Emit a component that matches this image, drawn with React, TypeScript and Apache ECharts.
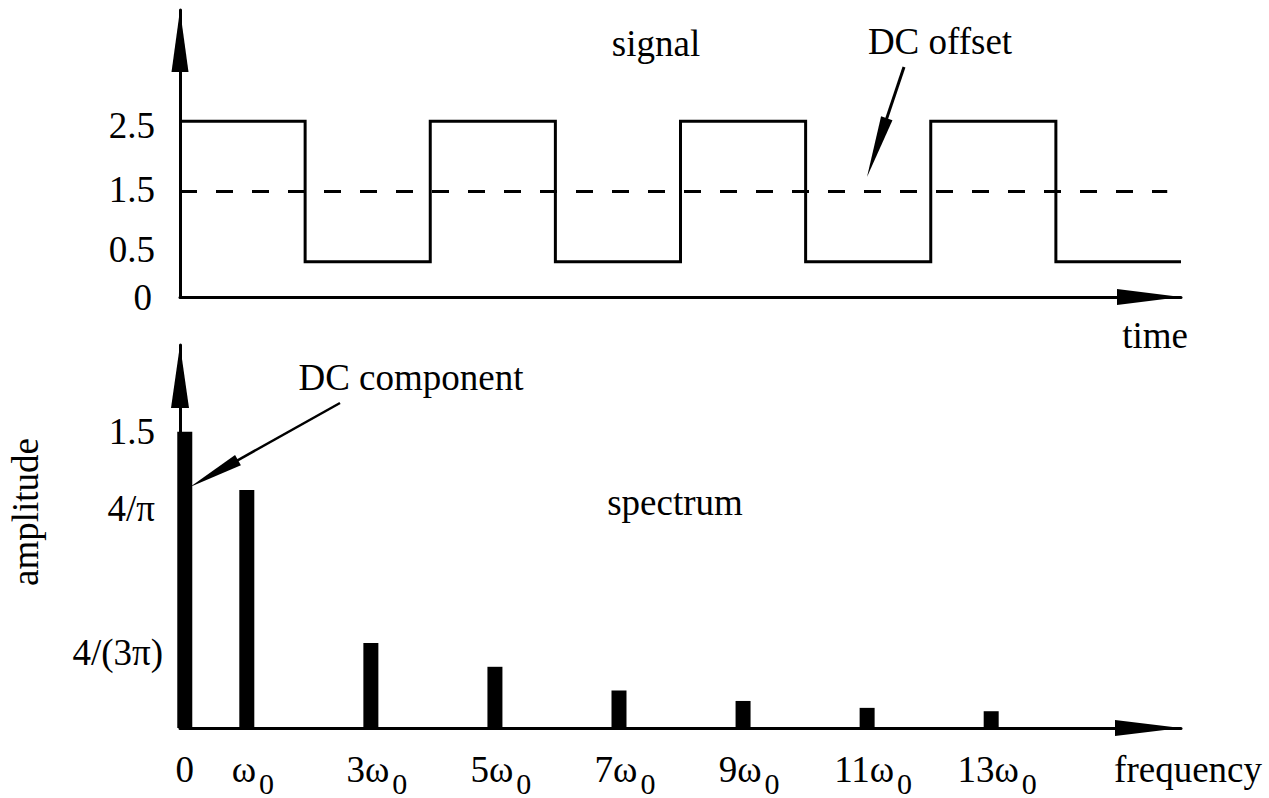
import React, { useEffect, useRef } from 'react';
import * as echarts from 'echarts';

// ---- data: time-domain signal (time in half-periods) ----
const signalTimes = [0, 1, 2, 3, 4, 5, 6, 7, 8];
const signalLevels = [2.5, 0.5, 2.5, 0.5, 2.5, 0.5, 2.5, 0.5, 0.5];
const dcOffsetTimes = [0, 7.89];
const dcOffsetLevels = [1.5, 1.5];
const signalTicks = [0, 0.5, 1.5, 2.5];
const signalTickLabels = ['0', '0.5', '1.5', '2.5'];

// ---- data: spectrum (frequency in multiples of ω0) ----
const harmonics = [0, 1, 3, 5, 7, 9, 11, 13];
const amplitudes = [1.5, 1.206, 0.43, 0.31, 0.19, 0.137, 0.102, 0.085];
const harmonicLabels = ['0', 'ω', '3ω', '5ω', '7ω', '9ω', '11ω', '13ω'];
const harmonicSubscripts = ['', '0', '0', '0', '0', '0', '0', '0'];
const amplitudeTicks = [0.43, 1.206, 1.5];
const amplitudeTickLabels = ['4/(3π)', '4/π', '1.5'];

const FONT = "'Liberation Serif', 'Times New Roman', Times, serif";
const FS = 37;
const SUB_FS = 30;
const BLACK = '#000';

function arrow(from: number[], tip: number[], headLen: number, headW: number, lw: number) {
  const dx = tip[0] - from[0];
  const dy = tip[1] - from[1];
  const L = Math.hypot(dx, dy);
  const ux = dx / L;
  const uy = dy / L;
  const bx = tip[0] - ux * headLen;
  const by = tip[1] - uy * headLen;
  const px = -uy;
  const py = ux;
  return [
    {
      type: 'line',
      shape: { x1: from[0], y1: from[1], x2: bx + ux * 2, y2: by + uy * 2 },
      style: { stroke: BLACK, lineWidth: lw },
    },
    {
      type: 'polygon',
      shape: {
        points: [
          [tip[0], tip[1]],
          [bx + (px * headW) / 2, by + (py * headW) / 2],
          [bx - (px * headW) / 2, by - (py * headW) / 2],
        ],
      },
      style: { fill: BLACK },
    },
  ];
}

function text(t: string, x: number, y: number, rotation = 0) {
  return {
    type: 'text',
    x,
    y,
    rotation,
    style: {
      text: t,
      font: `${FS}px ${FONT}`,
      fill: BLACK,
      textAlign: 'center',
      textVerticalAlign: 'middle',
      align: 'center',
      verticalAlign: 'middle',
    },
  };
}

const axisLineStyle = { color: BLACK, width: 3 };

export default function App() {
  const ref = useRef<HTMLDivElement>(null);

  useEffect(() => {
    if (!ref.current) return;
    const chart = echarts.init(ref.current, null, { renderer: 'svg' });

    const option: any = {
      animation: false,
      backgroundColor: '#fff',
      textStyle: { fontFamily: FONT, color: BLACK },
      grid: [
        { left: 180, top: 10, width: 1001, height: 287, outerBoundsMode: 'none', containLabel: false },
        { left: 180, top: 345, width: 1001, height: 383, outerBoundsMode: 'none', containLabel: false },
      ],
      xAxis: [
        {
          type: 'value',
          gridIndex: 0,
          min: 0,
          max: 8,
          name: 'time',
          nameLocation: 'end',
          nameGap: 7,
          nameTextStyle: {
            fontSize: FS,
            fontFamily: FONT,
            color: BLACK,
            align: 'right',
            verticalAlign: 'top',
            padding: [20, 0, 0, 0],
          },
          axisLine: {
            show: true,
            onZero: false,
            symbol: ['none', 'triangle'],
            symbolSize: [16, 64],
            symbolOffset: [0, -32],
            lineStyle: axisLineStyle,
          },
          axisTick: { show: false },
          axisLabel: { show: false },
          splitLine: { show: false },
        },
        {
          type: 'value',
          gridIndex: 1,
          min: -0.077,
          max: 16.06,
          name: 'frequency',
          nameLocation: 'end',
          nameGap: 81,
          nameTextStyle: {
            fontSize: FS,
            fontFamily: FONT,
            color: BLACK,
            align: 'right',
            verticalAlign: 'top',
            padding: [23, 0, 0, 0],
          },
          axisLine: {
            show: true,
            onZero: false,
            symbol: ['none', 'triangle'],
            symbolSize: [16, 66],
            symbolOffset: [0, -33],
            lineStyle: axisLineStyle,
          },
          axisTick: { show: false },
          splitLine: { show: false },
          axisLabel: {
            show: true,
            customValues: harmonics,
            margin: 13,
            color: BLACK,
            fontSize: FS,
            fontFamily: FONT,
            formatter: (v: number) => {
              const i = harmonics.indexOf(v);
              if (i < 0) return '';
              if (!harmonicSubscripts[i]) return `{z|${harmonicLabels[i]}}`;
              return `{w|${harmonicLabels[i]}}{s|${harmonicSubscripts[i]}}`;
            },
            rich: {
              z: { fontSize: FS, fontFamily: FONT, color: BLACK, padding: [10, 0, 10, 0] },
              w: { fontSize: FS, fontFamily: FONT, color: BLACK, padding: [0, 0, 0, 12] },
              s: { fontSize: SUB_FS, fontFamily: FONT, color: BLACK, padding: [27, 0, 0, 3] },
            },
          },
        },
      ],
      yAxis: [
        {
          type: 'value',
          gridIndex: 0,
          min: 0,
          max: 4.08,
          axisLine: {
            show: true,
            onZero: false,
            symbol: ['none', 'triangle'],
            symbolSize: [17, 62],
            symbolOffset: [0, -31],
            lineStyle: axisLineStyle,
          },
          axisTick: { show: false },
          splitLine: { show: false },
          axisLabel: {
            show: true,
            customValues: signalTicks,
            margin: 25,
            color: BLACK,
            fontSize: FS,
            fontFamily: FONT,
            formatter: (v: number) => {
              const i = signalTicks.indexOf(v);
              return i < 0 ? '' : `{t${i}|${signalTickLabels[i]}}`;
            },
            rich: {
              t0: { fontSize: FS, fontFamily: FONT, color: BLACK, padding: [0, 3, 0, 0] },
              t1: { fontSize: FS, fontFamily: FONT, color: BLACK, padding: [0, 0, 24, 0] },
              t2: { fontSize: FS, fontFamily: FONT, color: BLACK, padding: [0, 0, 4, 0] },
              t3: { fontSize: FS, fontFamily: FONT, color: BLACK, padding: [8, 0, 0, 0] },
            },
          },
        },
        {
          type: 'value',
          gridIndex: 1,
          min: 0,
          max: 1.94,
          axisLine: {
            show: true,
            onZero: false,
            symbol: ['none', 'triangle'],
            symbolSize: [18, 63],
            symbolOffset: [0, -31.5],
            lineStyle: axisLineStyle,
          },
          axisTick: { show: false },
          splitLine: { show: false },
          axisLabel: {
            show: true,
            customValues: amplitudeTicks,
            margin: 17,
            color: BLACK,
            fontSize: FS,
            fontFamily: FONT,
            formatter: (v: number) => {
              const i = amplitudeTicks.indexOf(v);
              return i < 0 ? '' : `{b${i}|${amplitudeTickLabels[i]}}`;
            },
            rich: {
              b0: { fontSize: FS, fontFamily: FONT, color: BLACK, padding: [18, 0, 0, 0] },
              b1: { fontSize: FS, fontFamily: FONT, color: BLACK, padding: [38, 8, 0, 0] },
              b2: { fontSize: FS, fontFamily: FONT, color: BLACK, padding: [0, 8, 0, 0] },
            },
          },
        },
      ],
      series: [
        {
          name: 'signal',
          type: 'line',
          xAxisIndex: 0,
          yAxisIndex: 0,
          step: 'end',
          showSymbol: false,
          symbol: 'none',
          data: signalTimes.map((t, i) => [t, signalLevels[i]]),
          lineStyle: { color: BLACK, width: 3, join: 'miter', cap: 'butt' },
          z: 3,
        },
        {
          name: 'DC offset',
          type: 'line',
          xAxisIndex: 0,
          yAxisIndex: 0,
          showSymbol: false,
          symbol: 'none',
          data: dcOffsetTimes.map((t, i) => [t, dcOffsetLevels[i]]),
          lineStyle: { color: BLACK, width: 3, type: [17, 19], cap: 'butt' },
          z: 2,
        },
        {
          name: 'spectrum',
          type: 'bar',
          xAxisIndex: 1,
          yAxisIndex: 1,
          barWidth: 15,
          data: harmonics.map((h, i) => [h, amplitudes[i]]),
          itemStyle: { color: BLACK },
          z: 3,
        },
      ],
      graphic: [
        text('signal', 656, 43),
        text('DC offset', 940, 41),
        ...arrow([904, 67], [867, 177], 62, 12, 3),
        text('DC component', 411, 377),
        ...arrow([340, 403], [190, 487], 55, 12, 2.5),
        text('spectrum', 675, 502),
        text('amplitude', 25, 512, Math.PI / 2),
      ],
    };

    chart.setOption(option);
    return () => chart.dispose();
  }, []);

  return (
    <div
      ref={ref}
      style={{ position: 'absolute', left: 0, top: 0, width: 1269, height: 798, background: '#fff' }}
    />
  );
}
